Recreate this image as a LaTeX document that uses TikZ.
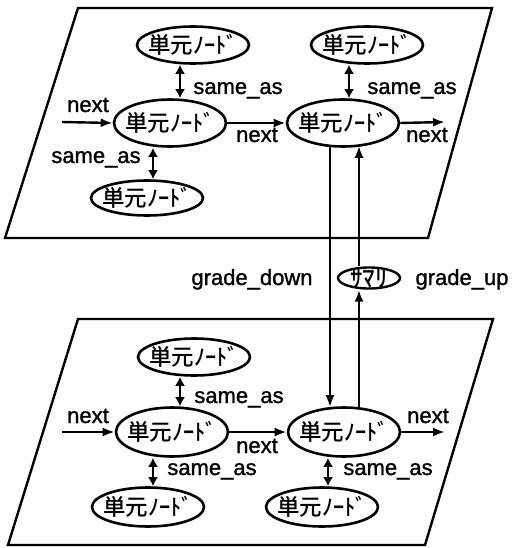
\documentclass[tikz,border=0pt]{standalone}
\usepackage{fontspec}
\setmainfont{Liberation Sans}[BoldFont={Liberation Sans},BoldFeatures={FakeBold=1.2}]
\newfontfamily\cjk{Noto Sans CJK JP}[BoldFont={Noto Sans CJK JP Medium}]
\usetikzlibrary{shapes.geometric,arrows.meta}
\tikzset{
  x=1pt,y=-1pt,
  plane/.style={line width=2.4pt,line join=miter},
  unit/.style={ellipse,draw,line width=2.6pt,inner xsep=-9pt,inner ysep=-3pt,minimum width=112pt,minimum height=37pt,font=\cjk\bfseries\fontsize{22.5}{22.5}\selectfont},
  bigunit/.style={unit,minimum width=112pt,minimum height=47pt},
  sumnode/.style={ellipse,draw,line width=2.4pt,inner sep=0pt,minimum width=62pt,minimum height=21pt,font=\cjk\bfseries\fontsize{25}{25}\selectfont},
  lbl/.style={anchor=base,inner sep=0pt,font=\bfseries\fontsize{22}{22}\selectfont},
  arr/.style={line width=2.4pt,-{Latex[length=12pt,width=9pt]}},
  dbl/.style={line width=2.4pt,{Latex[length=9pt,width=10pt]}-{Latex[length=9pt,width=10pt]}},
}
\begin{document}
\begin{tikzpicture}
\useasboundingbox (0,0) rectangle (512,548);
% planes
\draw[plane] (78,8) -- (492,8) -- (428,238) -- (5,238) -- cycle;
\draw[plane] (78,319) -- (493,319) -- (425,545) -- (8,545) -- cycle;
% top layer
\node[unit] (T1) at (193,45) {単元ﾉｰﾄﾞ};
\node[unit] (T2) at (367,45) {単元ﾉｰﾄﾞ};
\node[bigunit] (TL) at (170,123) {単元ﾉｰﾄﾞ};
\node[bigunit] (TR) at (343,123) {単元ﾉｰﾄﾞ};
\node[unit,minimum height=35pt] (TB) at (147,198) {単元ﾉｰﾄﾞ};
% summary
\node[sumnode] (SM) at (369,278) {\raisebox{-9.5pt}[5pt][5pt]{ｻﾏﾘ}};
% bottom layer
\node[unit] (B1) at (194,357) {単元ﾉｰﾄﾞ};
\node[bigunit,minimum height=49pt] (BL) at (172,432) {単元ﾉｰﾄﾞ};
\node[bigunit,minimum height=49pt] (BR) at (344,432) {単元ﾉｰﾄﾞ};
\node[unit,minimum height=39pt] (B3) at (148,507) {単元ﾉｰﾄﾞ};
\node[unit,minimum height=39pt] (B4) at (322,507) {単元ﾉｰﾄﾞ};
% free ends
\coordinate (tin) at (62,122);
\coordinate (tout) at (445,122);
\coordinate (bin) at (62,432);
\coordinate (bout) at (445,432);
% top connectors
\draw[arr] (tin) -- (TL.west);
\draw[arr] (TL.east) -- (TR.west);
\draw[arr] (TR.east) -- (tout);
\draw[dbl] ([xshift=-13pt]T1.south) -- ([xshift=-13pt]T1.south |- TL.north);
\draw[dbl] ([xshift=-18pt]T2.south) -- ([xshift=-18pt]T2.south |- TR.north);
\draw[dbl] ([xshift=-17pt]TL.south) -- ([xshift=-17pt]TL.south |- TB.north);
% bottom connectors
\draw[arr] (bin) -- (BL.west);
\draw[arr] (BL.east) -- (BR.west);
\draw[arr] (BR.east) -- (bout);
\draw[dbl] ([xshift=-14pt]B1.south) -- ([xshift=-14pt]B1.south |- BL.north);
\draw[dbl] ([xshift=-19pt]BL.south) -- ([xshift=-19pt]BL.south |- B3.north);
\draw[dbl] ([xshift=-16pt]BR.south) -- ([xshift=-16pt]BR.south |- B4.north);
% inter-layer
\draw[arr] ([xshift=-13pt,yshift=1pt]TR.south) -- ([xshift=-14pt,yshift=-1pt]BR.north);
\draw[arr] ([xshift=15pt,yshift=-1pt]BR.north) -- ([xshift=-10pt]SM.south);
\draw[arr] ([xshift=-10pt]SM.north) -- ([xshift=16pt,yshift=2pt]TR.south);
% labels
\node[lbl] (l1) at (88,112) {next};
\node[lbl] (l2) at (257,142) {next};
\node[lbl] (l3) at (427,142) {next};
\node[lbl] (l4) at (238,94) {same\_as};
\node[lbl] (l5) at (412,94) {same\_as};
\node[lbl] (l6) at (96,163) {same\_as};
\node[lbl] (l7) at (252,285) {grade\_down};
\node[lbl] (l8) at (462,285) {grade\_up};
\node[lbl] (l9) at (88,423) {next};
\node[lbl] (l10) at (257,453) {next};
\node[lbl] (l11) at (428,423) {next};
\node[lbl] (l12) at (239,403) {same\_as};
\node[lbl] (l13) at (212,475) {same\_as};
\node[lbl] (l14) at (388,475) {same\_as};
\end{tikzpicture}
\end{document}
